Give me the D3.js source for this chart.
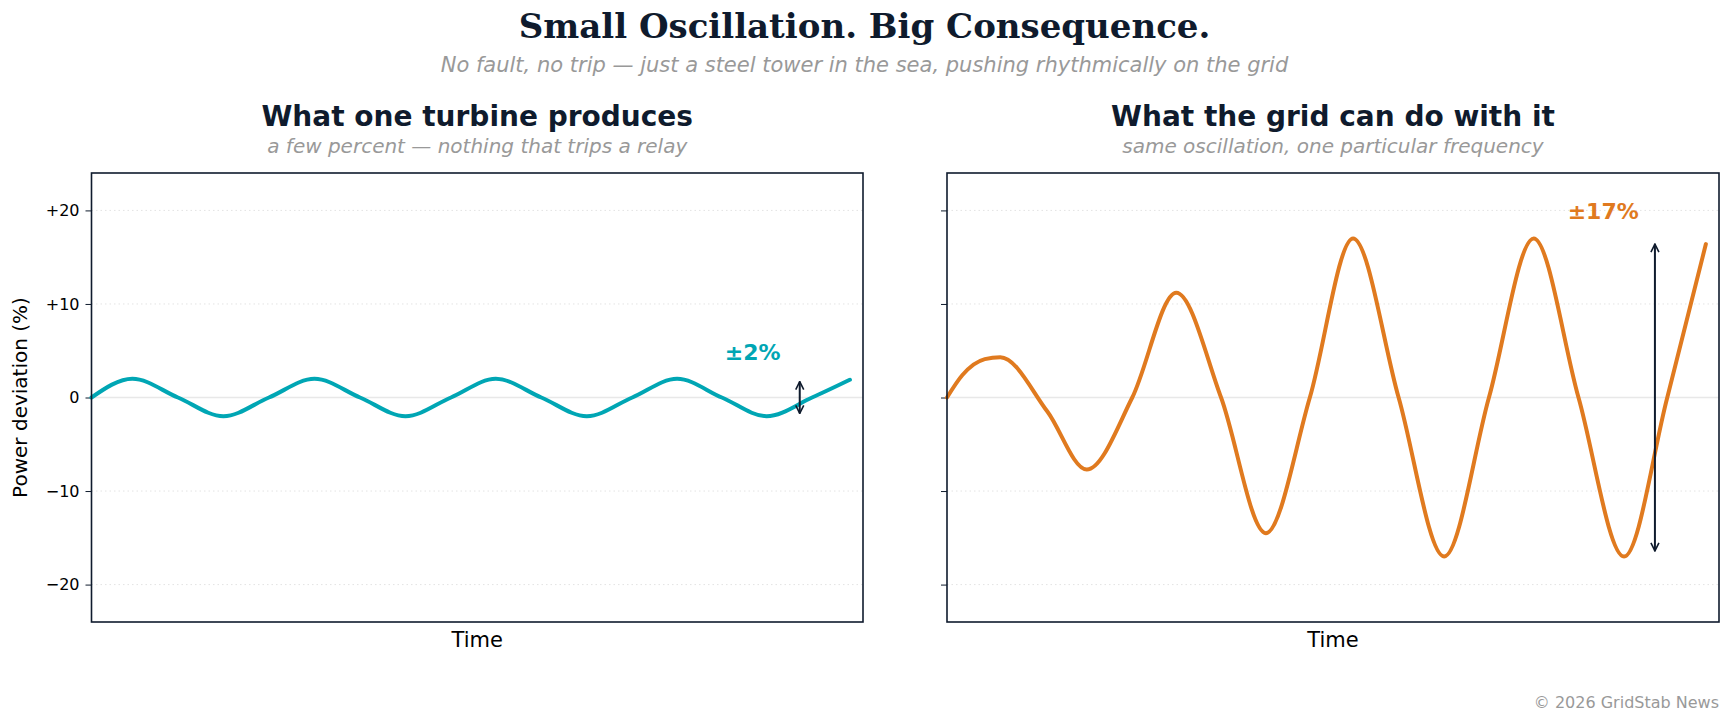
<!DOCTYPE html>
<html>
<head>
<meta charset="utf-8">
<script src="https://cdn.jsdelivr.net/npm/d3@7"></script>
<style>
  body { margin: 0; background: #fff; }
  text { font-family: "DejaVu Sans", sans-serif; }
</style>
</head>
<body>
<div id="chart"></div>
<script>
// turbine output (time units 0..10)
var turbineT = [0, 0.53, 1.12, 1.71, 2.30, 2.89, 3.48, 4.07, 4.66, 5.24, 5.83, 6.42, 7.01, 7.59, 8.17, 8.75, 9.34, 9.83];
var turbineV = [0, 2, 0, -2, 0, 2, 0, -2, 0, 2, 0, -2, 0, 2, 0, -2, 0, 1.9];

// grid response
var gridT = [0, 0.2, 0.49, 0.69, 1.3, 1.81, 2.4, 2.97, 3.55, 4.13, 4.7, 5.26, 5.85, 6.44, 7.02, 7.60, 8.18, 8.77, 9.33, 9.83];
var gridV = [0, 2.4, 4.1, 4.3, -1.5, -7.7, 0, 11.2, 0, -14.5, 0, 17, 0, -17, 0, 17, 0, -17, 0, 16.4];

var yTicks = [20, 10, 0, -10, -20];
var yTickLabels = ["+20", "+10", "0", "\u221210", "\u221220"];

var width = 1729, height = 721;
var navy = "#0f1b2d", grey = "#999999";

var svg = d3.select("#chart").append("svg")
    .attr("width", width)
    .attr("height", height);

svg.append("text").attr("x", width / 2).attr("y", 38)
    .attr("text-anchor", "middle")
    .style("font-family", "'DejaVu Serif', serif").style("font-weight", "bold")
    .style("font-size", "34px").attr("fill", navy)
    .text("Small Oscillation. Big Consequence.");

svg.append("text").attr("x", width / 2).attr("y", 72)
    .attr("text-anchor", "middle")
    .style("font-style", "italic").style("font-size", "21px").attr("fill", grey)
    .text("No fault, no trip \u2014 just a steel tower in the sea, pushing rhythmically on the grid");

svg.append("text").attr("x", 1719).attr("y", 708)
    .attr("text-anchor", "end")
    .style("font-size", "16px").attr("fill", grey)
    .text("\u00a9 2026 GridStab News");

var plotTop = 173, plotBottom = 622;
var y = d3.scaleLinear().domain([-24, 24]).range([plotBottom, plotTop]);

var defs = svg.append("defs");
defs.append("marker").attr("id", "head")
    .attr("viewBox", "0 0 10 10").attr("refX", 9).attr("refY", 5)
    .attr("markerWidth", 10).attr("markerHeight", 10)
    .attr("markerUnits", "userSpaceOnUse")
    .attr("orient", "auto-start-reverse")
  .append("path").attr("d", "M1,1 L9,5 L1,9")
    .attr("fill", "none").attr("stroke", navy).attr("stroke-width", 1.6);

function panel(opts) {
  var x = d3.scaleLinear().domain([0, 10]).range([opts.left, opts.right]);
  var g = svg.append("g");
  var cx = (opts.left + opts.right) / 2;

  g.append("text").attr("x", cx).attr("y", 126).attr("text-anchor", "middle")
      .style("font-weight", "bold").style("font-size", "28px").attr("fill", navy)
      .text(opts.title);
  g.append("text").attr("x", cx).attr("y", 153).attr("text-anchor", "middle")
      .style("font-style", "italic").style("font-size", "20px").attr("fill", grey)
      .text(opts.sub);

  // grid
  g.selectAll(".grid").data(yTicks.filter(function(d) { return d !== 0; }))
    .enter().append("line")
      .attr("x1", opts.left).attr("x2", opts.right)
      .attr("y1", function(d) { return y(d); }).attr("y2", function(d) { return y(d); })
      .attr("stroke", "#e3e3e3").attr("stroke-dasharray", "1.5,3");
  g.append("line").attr("x1", opts.left).attr("x2", opts.right)
      .attr("y1", y(0)).attr("y2", y(0))
      .attr("stroke", "#e8e8e8").attr("stroke-width", 1.5);

  var axis = d3.axisLeft(y).tickValues(yTicks).tickSize(6).tickPadding(6)
      .tickFormat(function(d, i) { return opts.labels ? yTickLabels[i] : ""; });
  var ax = g.append("g").attr("transform", "translate(" + opts.left + ",0)").call(axis);
  ax.select(".domain").remove();
  ax.selectAll("line").attr("stroke", navy);
  ax.selectAll("text").style("font-size", "16px").attr("fill", "#000")
      .style("font-family", "'DejaVu Sans', sans-serif");

  var line = d3.line()
      .x(function(d) { return x(d[0]); })
      .y(function(d) { return y(d[1]); })
      .curve(d3.curveMonotoneX);
  var pts = d3.zip(opts.t, opts.v);
  g.append("path").datum(pts).attr("d", line)
      .attr("fill", "none").attr("stroke", opts.color)
      .attr("stroke-width", 4).attr("stroke-linecap", "round");

  g.append("line")
      .attr("x1", x(opts.arrowT)).attr("x2", x(opts.arrowT))
      .attr("y1", y(opts.arrowV)).attr("y2", y(-opts.arrowV))
      .attr("stroke", navy).attr("stroke-width", 2)
      .attr("marker-start", "url(#head)").attr("marker-end", "url(#head)");
  g.append("text").attr("x", x(opts.labelT)).attr("y", y(opts.labelV) + 8)
      .attr("text-anchor", "middle")
      .style("font-weight", "bold").style("font-size", "22px").attr("fill", opts.color)
      .text(opts.label);

  g.append("rect").attr("x", opts.left).attr("y", plotTop)
      .attr("width", opts.right - opts.left).attr("height", plotBottom - plotTop)
      .attr("fill", "none").attr("stroke", navy).attr("stroke-width", 1.6);

  g.append("text").attr("x", cx).attr("y", 647).attr("text-anchor", "middle")
      .style("font-size", "21px").attr("fill", "#000").text("Time");
}

panel({ left: 91.5, right: 863, title: "What one turbine produces",
        sub: "a few percent \u2014 nothing that trips a relay",
        t: turbineT, v: turbineV, color: "#00a6b4", labels: true,
        arrowT: 9.18, arrowV: 1.7, labelT: 8.57, labelV: 4.9, label: "\u00b12%" });

panel({ left: 947, right: 1719, title: "What the grid can do with it",
        sub: "same oscillation, one particular frequency",
        t: gridT, v: gridV, color: "#e07a1f", labels: false,
        arrowT: 9.17, arrowV: 16.4, labelT: 8.5, labelV: 19.9, label: "\u00b117%" });

svg.append("text")
    .attr("transform", "translate(27," + y(0) + ") rotate(-90)")
    .attr("text-anchor", "middle").style("font-size", "20px").attr("fill", "#000")
    .text("Power deviation (%)");
</script>
</body>
</html>
